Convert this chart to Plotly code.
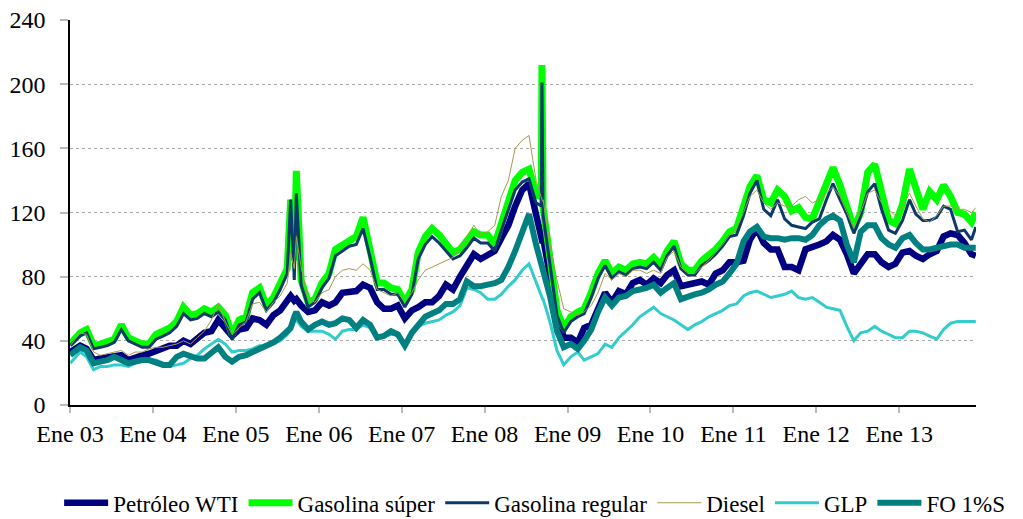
import pandas as pd
import plotly.graph_objects as go

# ---- monthly values, Jan 2003 .. Dec 2013 (12 per row = one year) ----
wti = [
    33, 37, 35, 28, 29, 30, 31, 31, 28, 30, 31, 32,
    34, 35, 37, 37, 40, 38, 41, 45, 46, 53, 48, 43,
    47, 48, 54, 53, 50, 56, 59, 65, 65, 62, 58, 59,
    64, 62, 64, 70, 71, 71, 75, 73, 64, 60, 60, 62,
    54, 59, 61, 64, 64, 68, 75, 72, 80, 87, 94, 91,
    93, 96, 104, 112, 124, 134, 138, 117, 104, 78, 57, 42,
    42, 39, 48, 50, 59, 70, 64, 71, 69, 76, 78, 75,
    79, 76, 81, 84, 74, 75, 76, 77, 75, 82, 84, 89,
    89, 90, 103, 110, 101, 97, 97, 86, 86, 84, 97, 99,
    100, 102, 106, 103, 94, 82, 88, 94, 94, 89, 86, 88,
    95, 96, 93, 91, 94, 96, 105, 107, 106, 101, 94, 93,
]
gas_super = [
    38, 45, 47, 37, 38, 39, 41, 50, 42, 40, 38, 38,
    44, 46, 48, 52, 61, 56, 57, 60, 58, 61, 56, 44,
    53, 55, 70, 73, 62, 67, 76, 85, 90, 78, 64, 66,
    76, 82, 97, 100, 103, 105, 117, 96, 76, 76, 73, 72,
    64, 72, 95, 105, 110, 106, 100, 95, 97, 102, 108, 106,
    106, 100, 114, 128, 140, 145, 147, 131, 123, 92, 59, 48,
    55, 58, 60, 70, 82, 90, 82, 86, 84, 88, 89, 88,
    92, 87, 96, 102, 88, 84, 84, 90, 93, 97, 102, 108,
    110, 122, 136, 143, 128, 126, 134, 130, 121, 123, 117, 116,
    126, 138, 148, 137, 124, 110, 120, 145, 150, 132, 115, 113,
    125, 147, 135, 122, 133, 128, 137, 130, 120, 119, 114, 120,
]
gas_regular = [
    37, 43, 45, 35, 36, 37, 39, 47, 40, 38, 36, 36,
    41, 43, 45, 49, 57, 53, 54, 57, 55, 58, 53, 41,
    50, 52, 66, 70, 59, 64, 72, 82, 78, 75, 61, 64,
    73, 79, 93, 96, 99, 100, 110, 92, 72, 72, 69, 69,
    61, 69, 91, 100, 105, 101, 96, 91, 93, 98, 104, 101,
    101, 96, 109, 122, 134, 139, 141, 126, 118, 88, 56, 45,
    52, 55, 57, 67, 79, 87, 79, 83, 81, 85, 86, 85,
    89, 84, 93, 99, 85, 81, 81, 87, 90, 94, 99, 105,
    106, 118, 132, 140, 122, 118, 128, 116, 112, 111, 110, 114,
    116, 128, 138, 128, 119, 107, 118, 133, 138, 122, 109, 107,
    115, 128, 119, 115, 115, 117, 124, 122, 108, 109, 103, 111,
]
diesel = [
    37, 45, 44, 33, 31, 32, 33, 34, 31, 33, 33, 35,
    36, 36, 37, 38, 40, 38, 42, 46, 53, 63, 52, 44,
    48, 52, 63, 64, 58, 64, 68, 76, 85, 86, 66, 64,
    70, 72, 80, 84, 85, 84, 88, 84, 72, 70, 68, 70,
    64, 70, 78, 84, 86, 88, 90, 92, 98, 105, 112, 106,
    108, 112, 130, 140, 160, 165, 168, 140, 128, 100, 78, 60,
    58, 56, 58, 62, 70, 82, 78, 82, 80, 84, 84, 82,
    84, 82, 92, 96, 86, 82, 82, 86, 90, 95, 100, 106,
    110, 120, 130, 134, 126, 122, 126, 124, 124, 128, 130, 126,
    128, 132, 136, 130, 120, 110, 120, 132, 134, 126, 122, 118,
    124, 132, 124, 116, 114, 118, 124, 124, 122, 122, 120, 123,
]
glp = [
    26, 33, 30, 22, 24, 24, 25, 25, 24, 26, 28, 28,
    28, 26, 24, 25, 26, 29, 31, 35, 38, 41, 38, 33,
    34, 34, 35, 37, 36, 38, 40, 44, 52, 49, 46, 46,
    46, 44, 41, 46, 47, 47, 50, 48, 42, 43, 44, 44,
    38, 45, 49, 51, 52, 53, 56, 58, 62, 73, 72, 70,
    66, 66, 69, 74, 78, 84, 88, 76, 66, 52, 34, 25,
    30, 33, 28, 30, 32, 38, 36, 42, 46, 50, 55, 58,
    61, 57, 55, 53, 50, 47, 50, 52, 55, 57, 59, 62,
    63, 68, 70, 71, 69, 67, 68, 69, 71, 67, 66, 67,
    64, 61, 60, 59, 49, 40, 45, 46, 49, 46, 44, 42,
    42, 46, 46, 45, 43, 41, 47, 51, 52, 52, 52, 52,
]
fo = [
    31, 36, 34, 26, 27, 28, 30, 28, 26, 27, 28, 28,
    26, 25, 25, 30, 32, 30, 29, 29, 32, 36, 30, 27,
    30, 31, 33, 35, 37, 39, 42, 46, 55, 52, 47, 50,
    52, 50, 51, 54, 53, 48, 53, 50, 42, 43, 46, 44,
    37, 45, 50, 55, 57, 59, 63, 63, 66, 77, 74, 74,
    75, 76, 78, 86, 96, 108, 119, 100, 86, 68, 46, 36,
    38, 35, 40, 47, 58, 67, 62, 67, 68, 71, 72, 73,
    75, 70, 73, 76, 66, 68, 69, 70, 72, 75, 77, 82,
    88, 102, 108, 111, 105, 104, 104, 103, 104, 104, 103, 106,
    112, 116, 118, 115, 100, 89, 108, 112, 112, 104, 100, 98,
    104, 106, 101, 97, 97, 98, 99, 100, 100, 98, 98, 98,
]

# ---- short-lived spikes (hurricanes 2005, 2008) ----
spike_dates = ["2005-08-30", "2005-09-24", "2008-09-07", "2008-09-10", "2008-09-13"]
wti_spk = [68, 66, 106, 103, 101]
super_spk = [128, 146, 130, 212, 128]
regular_spk = [128, 132, 124, 201, 122]
diesel_spk = [95, 105, 128, 128, 127]
glp_spk = [47, 53, 68, 67, 66]
fo_spk = [48, 58, 88, 87, 86]

tick_years = list(range(2003, 2014))
tick_text = ["Ene %02d" % (y % 100) for y in tick_years]

# monthly date positions (mid month), first/last at series ends
month_starts = pd.date_range("2003-01-01", periods=132, freq="MS")
dates = list(month_starts + pd.Timedelta(days=14))
dates[0] = pd.Timestamp("2003-01-02")
dates[-1] = pd.Timestamp("2013-12-04")
spk_idx = pd.to_datetime(spike_dates)


def build(monthly, spikes):
    s = pd.concat([pd.Series(monthly, index=pd.DatetimeIndex(dates)),
                   pd.Series(spikes, index=spk_idx)]).sort_index()
    return s


series = [
    ("Petróleo WTI", wti, wti_spk, "#000080", 6.5),
    ("Gasolina súper", gas_super, super_spk, "#00FF00", 7),
    ("Gasolina regular", gas_regular, regular_spk, "#0B3A6A", 3),
    ("Diesel", diesel, diesel_spk, "#A8994F", 1),
    ("GLP", glp, glp_spk, "#33CCCC", 3),
    ("FO 1%S", fo, fo_spk, "#008080", 6),
]

FONT = "Times New Roman, Liberation Serif, DejaVu Serif, serif"

fig = go.Figure()
for name, vals, spk, color, w in series:
    s = build(vals, spk)
    fig.add_trace(go.Scatter(x=s.index, y=s.values, mode="lines", name=name,
                             line=dict(color=color, width=w)))

fig.update_layout(
    width=1015, height=511,
    margin=dict(l=62, r=47, t=12, b=114, autoexpand=False),
    paper_bgcolor="white", plot_bgcolor="white",
    font=dict(family=FONT, size=24, color="black"),
    showlegend=True,
    legend=dict(orientation="h", x=-0.012, xanchor="left", y=-0.254, yanchor="middle",
                font=dict(family=FONT, size=23, color="black"),
                itemwidth=44, bgcolor="rgba(0,0,0,0)", tracegroupgap=0),
    hovermode=False,
)
fig.update_xaxes(
    type="date", range=["2003-01-01", "2013-12-05"],
    tickvals=[pd.Timestamp(y, 1, 1) for y in tick_years], ticktext=tick_text,
    showgrid=False, showline=True, linecolor="black", linewidth=1.5,
    ticks="outside", ticklen=6, tickcolor="#BBBBBB", tickwidth=1.5,
    ticklabeloverflow="allow",
    tickfont=dict(family=FONT, size=24, color="black"), zeroline=False,
)
fig.update_yaxes(
    range=[0, 240], dtick=40, tick0=0,
    showgrid=True, gridcolor="#A8A8A8", griddash="dot", gridwidth=1,
    showline=True, linecolor="black", linewidth=1.5,
    ticks="outside", ticklen=8, tickcolor="#BBBBBB", tickwidth=1.5,
    ticklabelstandoff=10, ticklabeloverflow="allow",
    tickfont=dict(family=FONT, size=24, color="black"), zeroline=False,
)

fig.write_html("out.html")
